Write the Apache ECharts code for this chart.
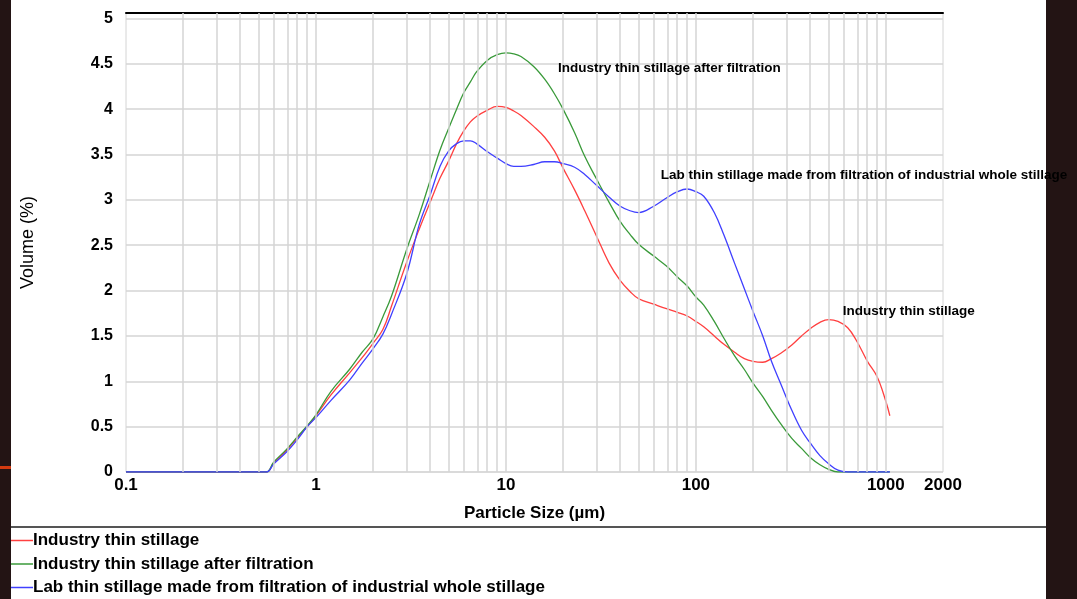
<!DOCTYPE html>
<html>
<head>
<meta charset="utf-8">
<script src="https://cdn.jsdelivr.net/npm/echarts@6/dist/echarts.min.js"></script>
<style>
  html, body { margin: 0; padding: 0; background: #fff; }
  #chart { width: 1077px; height: 599px; }
</style>
</head>
<body>
<div id="chart"></div>
<script>
// particle sizes (um) shared by the three curves
var sizes = [0.1, 0.2, 0.3, 0.4, 0.5, 0.55, 0.6, 0.7, 0.8, 0.9,
  1, 1.2, 1.5, 1.75, 2, 2.25, 2.5, 3, 3.5, 4, 4.5, 5,
  5.5, 6, 6.5, 7, 8, 9, 10, 11, 12, 14,
  16, 18, 20, 23, 26, 30, 35, 40, 45, 50,
  60, 70, 80, 90, 100, 110, 125, 140, 160, 180,
  200, 225, 250, 280, 320, 360, 400, 450, 500, 560,
  630, 700, 800, 900, 1000, 1050];

var industry = [0, 0, 0, 0, 0, 0, 0.1, 0.24, 0.38, 0.5,
  0.62, 0.85, 1.09, 1.26, 1.42, 1.57, 1.83, 2.31, 2.68, 2.98, 3.24, 3.43,
  3.62, 3.76, 3.86, 3.92, 3.99, 4.03, 4.02, 3.98, 3.93, 3.81,
  3.69, 3.54, 3.35, 3.11, 2.88, 2.6, 2.3, 2.11, 1.99, 1.91,
  1.85, 1.8, 1.76, 1.72, 1.66, 1.6, 1.5, 1.41, 1.32, 1.25,
  1.22, 1.21, 1.25, 1.31, 1.4, 1.5, 1.58, 1.65, 1.68, 1.66,
  1.59, 1.45, 1.22, 1.05, 0.78, 0.62];

var afterFiltration = [0, 0, 0, 0, 0, 0, 0.11, 0.25, 0.39, 0.51,
  0.63, 0.89, 1.13, 1.32, 1.47, 1.71, 1.94, 2.45, 2.84, 3.22, 3.55, 3.79,
  4.0, 4.18, 4.3, 4.41, 4.54, 4.6, 4.62, 4.61, 4.58, 4.47,
  4.33, 4.17, 4.0, 3.74, 3.48, 3.23, 2.97, 2.76, 2.62, 2.51,
  2.38, 2.27, 2.15, 2.05, 1.93, 1.84, 1.66, 1.48, 1.28, 1.13,
  0.98, 0.83, 0.68, 0.53, 0.37, 0.26, 0.16, 0.08, 0.03, 0,
  0, 0, 0, 0, 0, 0];

var labStillage = [0, 0, 0, 0, 0, 0, 0.09, 0.22, 0.36, 0.5,
  0.6, 0.79, 1.01, 1.2, 1.36, 1.52, 1.74, 2.18, 2.73, 3.06, 3.37, 3.54,
  3.62, 3.65, 3.65, 3.62, 3.53, 3.46, 3.4, 3.37, 3.37, 3.39,
  3.42, 3.42, 3.4, 3.36, 3.28, 3.16, 3.03, 2.93, 2.88, 2.86,
  2.93, 3.02, 3.09, 3.12, 3.09, 3.04, 2.86, 2.62, 2.3, 2.02,
  1.77, 1.5, 1.22, 0.97, 0.68, 0.46, 0.32, 0.18, 0.09, 0.02,
  0, 0, 0, 0, 0, 0];

var seriesNames = ['Industry thin stillage',
  'Industry thin stillage after filtration',
  'Lab thin stillage made from filtration of industrial whole stillage'];
var seriesColors = ['#ff4040', '#3a9a3a', '#4040ff'];

var xTickLabels = [0.1, 1, 10, 100, 1000, 2000];

// in-plot captions: [size, volume] where each caption starts
var noteAt = [[594, 1.775], [18.8, 4.45], [65.4, 3.27]];

var font = 'Liberation Sans, Arial, sans-serif';

// vertical gridlines 1..9 of every decade
var gridSizes = [];
for (var d = -1; d <= 2; d++) {
  for (var k = 2; k <= 9; k++) gridSizes.push(k * Math.pow(10, d));
  gridSizes.push(Math.pow(10, d + 1));
}

function pairs(vals) {
  return sizes.map(function (s, i) { return [Math.log10(s), vals[i]]; });
}

var chart = echarts.init(document.getElementById('chart'));
var xMax = Math.log10(2000);

var curves = [industry, afterFiltration, labStillage].map(function (vals, i) {
  return {
    name: seriesNames[i],
    type: 'line',
    data: pairs(vals),
    smooth: 0.4,
    symbol: 'none',
    lineStyle: { color: seriesColors[i], width: 1.3 },
    itemStyle: { color: seriesColors[i] },
    z: 3,
    markPoint: {
      symbol: 'circle',
      symbolSize: 0,
      silent: true,
      data: [{ coord: [Math.log10(noteAt[i][0]), noteAt[i][1]] }],
      label: {
        show: true,
        position: 'right',
        distance: 0,
        formatter: seriesNames[i],
        color: '#000',
        fontFamily: font,
        fontWeight: 'bold',
        fontSize: 13.5
      }
    }
  };
});

var option = {
  animation: false,
  backgroundColor: '#fff',
  grid: {
    left: 126, right: 134, top: 13, bottom: 127,
    show: true, borderColor: '#d4d4d4', borderWidth: 1
  },
  xAxis: [{
    type: 'value',
    min: -1,
    max: xMax,
    name: 'Particle Size (\u00b5m)',
    nameLocation: 'middle',
    nameGap: 33,
    nameTextStyle: { color: '#000', fontFamily: font, fontWeight: 'bold', fontSize: 17 },
    axisLine: { show: false },
    axisTick: { show: false },
    splitLine: { show: false },
    axisLabel: {
      customValues: xTickLabels.map(function (v) { return Math.log10(v); }),
      formatter: function (v) { return String(+Math.pow(10, v).toPrecision(3)); },
      color: '#000',
      fontFamily: font,
      fontWeight: 'bold',
      fontSize: 17,
      margin: 5
    }
  }, {
    type: 'value',
    position: 'top',
    min: -1,
    max: xMax,
    axisLine: { show: true, lineStyle: { color: '#000', width: 2 } },
    axisTick: { show: false },
    axisLabel: { show: false },
    splitLine: { show: false }
  }],
  yAxis: {
    type: 'value',
    min: 0,
    max: 5.06,
    interval: 0.5,
    name: 'Volume (%)',
    nameLocation: 'middle',
    nameGap: 89,
    nameTextStyle: { color: '#000', fontFamily: font, fontSize: 18 },
    axisLine: { show: false },
    axisTick: { show: false },
    splitLine: { lineStyle: { color: '#d4d4d4', width: 1.5 } },
    axisLabel: {
      formatter: function (v) {
        return Math.abs(v * 2 - Math.round(v * 2)) < 1e-6 ? String(v) : '';
      },
      color: '#000',
      fontFamily: font,
      fontWeight: 'bold',
      fontSize: 16,
      margin: 13
    }
  },
  legend: {
    data: seriesNames,
    orient: 'vertical',
    left: 11,
    top: 532,
    padding: 0,
    icon: 'rect',
    itemWidth: 22,
    itemHeight: 1.5,
    itemGap: 6.5,
    textStyle: { color: '#000', fontFamily: font, fontWeight: 'bold', fontSize: 17, padding: [0, 0, 0, -5] }
  },
  graphic: [
    { type: 'rect', left: 0, top: 0, z: -10, shape: { width: 11, height: 599 }, style: { fill: '#231414' } },
    { type: 'rect', left: 0, top: 466, z: -10, shape: { width: 11, height: 3 }, style: { fill: '#d33a10' } },
    { type: 'rect', left: 1046, top: 0, z: -10, shape: { width: 31, height: 599 }, style: { fill: '#231414' } },
    { type: 'line', shape: { x1: 11, y1: 527, x2: 1046, y2: 527 }, style: { stroke: '#555', lineWidth: 2 } }
  ],
  series: [{
    type: 'line',
    data: [],
    silent: true,
    z: 1,
    markLine: {
      silent: true,
      symbol: 'none',
      label: { show: false },
      lineStyle: { color: '#d4d4d4', width: 1.5, type: 'solid' },
      emphasis: { disabled: true },
      data: gridSizes.map(function (s) { return { xAxis: Math.log10(s) }; })
    }
  }].concat(curves)
};

chart.setOption(option);
</script>
</body>
</html>
